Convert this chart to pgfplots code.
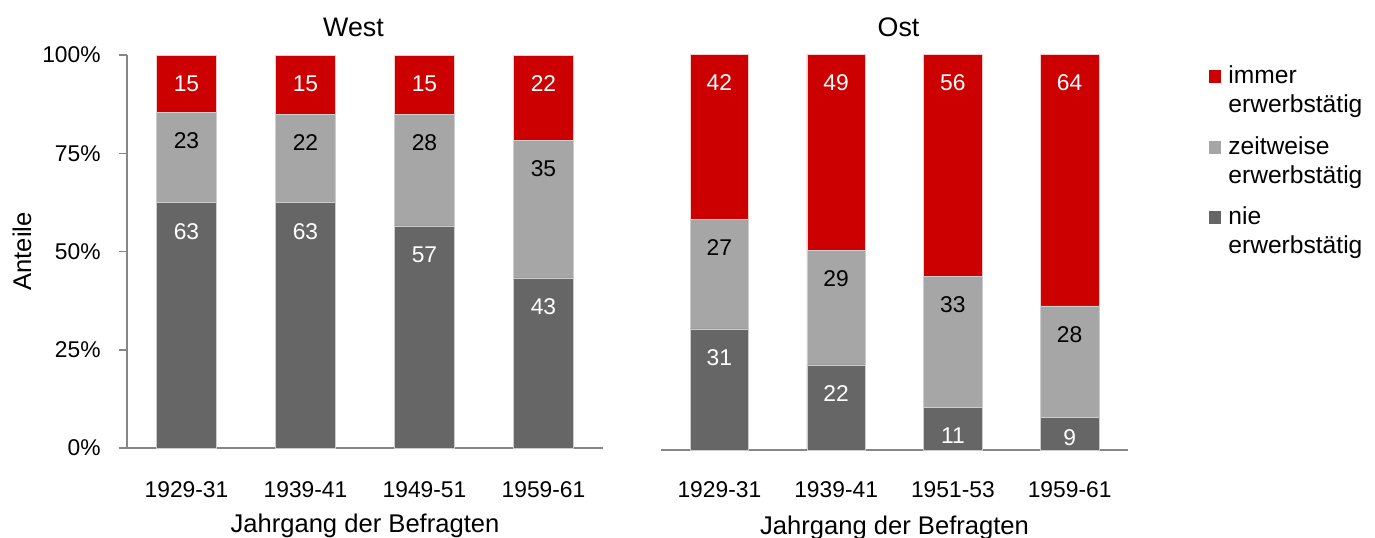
\documentclass[border=0pt]{standalone}
\usepackage{pgfplots}
\pgfplotsset{compat=1.18}
\usepackage{pgfplotstable}
\usepackage{fontspec}
\setmainfont{Liberation Sans}

\definecolor{cred}{HTML}{CC0000}
\definecolor{clight}{HTML}{A6A6A6}
\definecolor{cdark}{HTML}{666666}
\definecolor{caxis}{HTML}{868686}

% ns: distance (pt) of the "nie" label centre below the top of its segment
\pgfplotstableread{
x nie nl zeit zl immer il ns
0 62.4 63 23.0 23 14.6 15 14.2
1 62.4 63 22.5 22 15.1 15 14.2
2 56.5 57 28.4 28 15.1 15 14.2
3 43.3 43 34.9 35 21.8 22 14.2
}\westdata

\pgfplotstableread{
x nie nl zeit zl immer il ns
0 30.6 31 27.7 27 41.7 42 14.2
1 21.5 22 29.0 29 49.5 49 14.2
2 10.7 11 33.2 33 56.1 56 14.2
3 8.3 9 28.1 28 63.6 64 10.4
}\ostdata

\def\lns{14.2}
\def\yv{0}
\def\hs{0.9825}

\pgfplotsset{
  mybars/.style={
    ybar stacked, bar width=0.5, scale only axis,
    ymin=0, ymax=100, xmin=-0.5, xmax=3.5,
    axis x line*=bottom,
    x axis line style={caxis, line width=0.75pt},
    xtick={0,1,2,3},
    xtick style={draw=none},
    xticklabel style={font=\fontsize{11.4}{13}\selectfont, anchor=base},
    xlabel={Jahrgang der Befragten},
    xlabel style={font=\fontsize{12.8}{15}\selectfont, at={(axis description cs:0.5,0)}, anchor=base, yshift=-42pt},
    nodes near coords, point meta=explicit symbolic,
    visualization depends on={rawy \as \yv},
    nodes near coords style={font=\fontsize{11.4}{13}\selectfont, anchor=center, yshift={(\yv*\hs-\lns)*1pt}},
    title style={font=\fontsize{13.4}{16}\selectfont, at={(axis description cs:0.5,1)}, anchor=base},
    clip=false,
  },
  darkbar/.style={fill=cdark, draw=white!80!black, line width=0.3pt,
    visualization depends on={\thisrow{ns} \as \lns},
    every node near coord/.append style={text=white}},
  lightbar/.style={fill=clight, draw=white!80!black, line width=0.3pt, every node near coord/.append style={text=black}},
  redbar/.style={fill=cred, draw=white!80!cred, line width=0.3pt, every node near coord/.append style={text=white}},
}

\begin{document}
\begin{tikzpicture}
\path[use as bounding box] (0,0) rectangle (687.5pt,-268.5pt);

\def\hs{0.9825}
\begin{axis}[mybars,
  at={(63.5pt,-224pt)}, anchor=south west,
  width=238pt, height=196.5pt,
  title={West}, title style={xshift=-5.75pt, yshift=3.5pt},
  axis y line*=left,
  y axis line style={caxis, line width=0.75pt},
  ytick={0,25,50,75,100},
  yticklabels={0\%,25\%,50\%,75\%,100\%},
  ytick style={caxis, line width=0.75pt},
  tick align=outside, major tick length=4pt,
  yticklabel style={font=\fontsize{11.4}{13}\selectfont, anchor=east, inner sep=0pt, xshift=-9pt},
  xticklabel style={yshift=-20.9pt},
  xticklabels={1929-31,1939-41,1949-51,1959-61},
  ylabel={Anteile},
  ylabel style={font=\fontsize{12.8}{15}\selectfont, at={(axis description cs:-0.2206,0.5)}, anchor=center},
]
\addplot[darkbar] table[x=x, y=nie, meta=nl]{\westdata};
\addplot[lightbar] table[x=x, y=zeit, meta=zl]{\westdata};
\addplot[redbar] table[x=x, y=immer, meta=il]{\westdata};
\end{axis}

\def\hs{0.99}
\begin{axis}[mybars,
  at={(330.5pt,-225pt)}, anchor=south west,
  width=233.5pt, height=198pt,
  title={Ost}, title style={xshift=2pt, yshift=3pt},
  axis y line=none,
  ytick=\empty,
  xticklabel style={yshift=-23.9pt},
  xticklabels={1929-31,1939-41,1951-53,1959-61},
]
\addplot[darkbar] table[x=x, y=nie, meta=nl]{\ostdata};
\addplot[lightbar] table[x=x, y=zeit, meta=zl]{\ostdata};
\addplot[redbar] table[x=x, y=immer, meta=il]{\ostdata};
\end{axis}

% legend
\begin{scope}[every node/.style={font=\fontsize{12.3}{14}\selectfont, anchor=base west, inner sep=0pt}]
\fill[cred]   (604.5pt,-34.75pt) rectangle (610.5pt,-41.25pt);
\node at (614pt,-41.5pt) {immer};
\node at (614pt,-56pt) {erwerbstätig};
\fill[clight] (604.5pt,-70.25pt) rectangle (610.5pt,-76.75pt);
\node at (614pt,-77pt) {zeitweise};
\node at (614pt,-91.5pt) {erwerbstätig};
\fill[cdark]  (604.5pt,-105.25pt) rectangle (610.5pt,-111.75pt);
\node at (614pt,-112pt) {nie};
\node at (614pt,-126.5pt) {erwerbstätig};
\end{scope}
\end{tikzpicture}
\end{document}
